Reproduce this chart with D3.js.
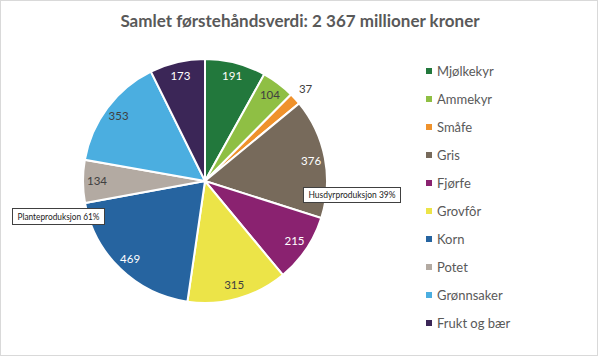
<!DOCTYPE html>
<html><head><meta charset="utf-8">
<script src="https://cdn.jsdelivr.net/npm/d3@7"></script>
<style>body{margin:0;background:#fff;} svg{display:block;font-family:Lato,"Open Sans",sans-serif;}</style>
</head><body>
<svg id="c" width="600" height="357"></svg>
<script>
const categories = ["Mjølkekyr","Ammekyr","Småfe","Gris","Fjørfe","Grovfôr","Korn","Potet","Grønnsaker","Frukt og bær"];
const values = [191,104,37,376,215,315,469,134,353,173];
const colors = ["#22783c","#8fbf44","#ef922c","#776a5b","#8a2270","#ece448","#2664a0","#b3aaa2","#4baee0","#3b2657"];
const labelColors = ["#fff","#404040","#404040","#fff","#fff","#404040","#fff","#404040","#404040","#fff"];
const title = "Samlet førstehåndsverdi: 2 367 millioner kroner";
const groupLabels = ["Husdyrproduksjon 39%","Planteproduksjon 61%"];

const svg = d3.select("#c");
svg.append("rect").attr("x",0.5).attr("y",0.5).attr("width",597).attr("height",355)
  .attr("fill","#fff").attr("stroke","#d9d9d9");
svg.append("text").attr("x",300).attr("y",27).attr("text-anchor","middle")
  .attr("font-size",17).attr("font-weight","bold").attr("fill","#595959").text(title);

const cx=205, cy=181, r=122;
const pie = d3.pie().sort(null).value(d=>d)(values);
const arc = d3.arc().innerRadius(0).outerRadius(r);
const g = svg.append("g").attr("transform",`translate(${cx},${cy})`);
g.selectAll("path").data(pie).join("path").attr("d",arc)
  .attr("fill",(d,i)=>colors[i]).attr("stroke","#fff").attr("stroke-width",2);
const lab = d3.arc().innerRadius(108).outerRadius(108);
const labOut = d3.arc().innerRadius(136).outerRadius(136);
g.selectAll("text.v").data(pie).join("text").attr("class","v")
  .attr("transform",(d,i)=>`translate(${(values[i]<50?labOut:lab).centroid(d)})`)
  .attr("text-anchor","middle").attr("dy","0.35em").attr("font-size",11.5)
  .attr("fill",(d,i)=>values[i]<50?"#404040":labelColors[i]).text((d,i)=>values[i]);

// group label boxes
const boxes=[{t:groupLabels[0],x:303,y:187,w:97,h:15},{t:groupLabels[1],x:12,y:208,w:92,h:16}];
boxes.forEach(b=>{
  svg.append("rect").attr("x",b.x+0.5).attr("y",b.y+0.5).attr("width",b.w).attr("height",b.h)
    .attr("fill","#fff").attr("stroke","#404040").attr("stroke-width",1);
  svg.append("text").attr("x",b.x+b.w/2+0.5).attr("y",b.y+b.h/2+0.5).attr("dy","0.35em")
    .attr("text-anchor","middle").attr("font-size",9.5).attr("fill","#222")
    .attr("textLength",b.w-10).attr("lengthAdjust","spacingAndGlyphs").text(b.t);
});

// legend
const ly = d3.scalePoint().domain(categories).range([71,323]);
const leg = svg.append("g");
categories.forEach((c,i)=>{
  leg.append("rect").attr("x",426).attr("y",ly(c)-3).attr("width",6).attr("height",6).attr("fill",colors[i]);
  leg.append("text").attr("x",437).attr("y",ly(c)).attr("dy","0.35em")
    .attr("font-size",13).attr("fill","#595959").text(c);
});
</script>
</body></html>
